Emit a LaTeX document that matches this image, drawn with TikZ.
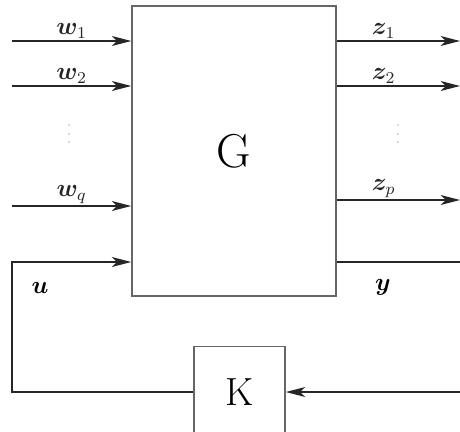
\documentclass[tikz,border=0pt]{standalone}
\usepackage{amsmath,amssymb,bm}
\usetikzlibrary{arrows.meta,positioning,calc}
\tikzset{
  sysbox/.style = {rectangle, draw=black!60, line width=0.7pt, inner sep=0pt},
  sig/.style    = {-{Stealth[length=3.3mm,width=1.7mm,inset=0.9mm]}, line width=0.6pt, black!85},
  lbl/.style    = {font=\large},
  dts/.style    = {text=black!25, font=\footnotesize},
}
\begin{document}
\begin{tikzpicture}[x=0.017cm,y=-0.017cm]
  \clip (0,0) rectangle (460,431);
  \node[sysbox, minimum width=3.47cm, minimum height=4.93cm] (G) at (234,151) {\fontsize{23}{28}\selectfont G};
  \node[sysbox, minimum width=1.55cm, minimum height=1.55cm] (K) at (239.5,392) {\fontsize{19}{23}\selectfont K};
  % exogenous inputs and outputs
  \coordinate (w1) at (12,41);
  \coordinate (w2) at (12,86);
  \coordinate (wq) at (12,206);
  \coordinate (z1) at (460,41);
  \coordinate (z2) at (460,86);
  \coordinate (zp) at (460,200);
  \draw[sig] (w1) -- (w1 -| G.west) node[lbl, midway, above, inner sep=1pt] {$\bm{w}_1$};
  \draw[sig] (w2) -- (w2 -| G.west) node[lbl, midway, above, inner sep=1pt] {$\bm{w}_2$};
  \draw[sig] (wq) -- (wq -| G.west) node[lbl, midway, above, inner sep=1pt] {$\bm{w}_q$};
  \draw[sig] (z1 -| G.east) -- (z1) node[lbl, pos=0.38, above, inner sep=1pt] {$\bm{z}_1$};
  \draw[sig] (z2 -| G.east) -- (z2) node[lbl, pos=0.38, above, inner sep=1pt] {$\bm{z}_2$};
  \draw[sig] (zp -| G.east) -- (zp) node[lbl, pos=0.38, above, inner sep=1pt] {$\bm{z}_p$};
  \node[dts] (dw) at (69,128) {$\vdots$};
  \node[dts] (dz) at (398,128) {$\vdots$};
  % feedback loop
  \coordinate (u) at (12,262);
  \coordinate (y) at (478,262);
  \draw[sig] (K.west) -| (u) -- (u -| G.west);
  \draw[sig] (y -| G.east) -- (y) |- (K.east);
  \node[lbl] (ul) at (40,288) {$\bm{u}$};
  \node[lbl] (yl) at (383,287) {$\bm{y}$};
\end{tikzpicture}
\end{document}
